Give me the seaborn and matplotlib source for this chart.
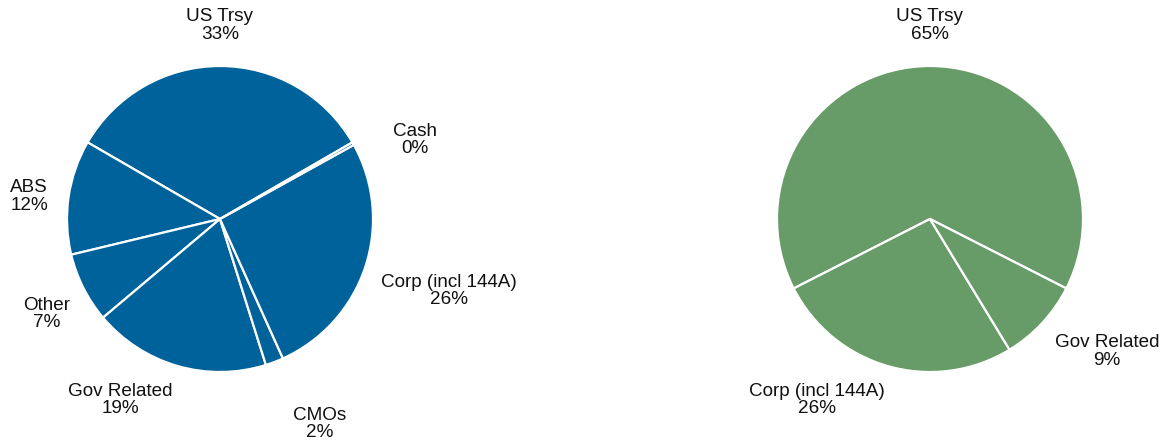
import matplotlib
matplotlib.use("Agg")
import matplotlib.pyplot as plt
import numpy as np
import seaborn as sns

# Portfolio sector allocation (percent of market value)
fund_sectors = ["US Trsy", "ABS", "Other", "Gov Related", "CMOs", "Corp (incl 144A)", "Cash"]
fund_weights = [33.3, 12.1, 7.4, 18.7, 1.9, 26.3, 0.3]

bench_sectors = ["US Trsy", "Corp (incl 144A)", "Gov Related"]
bench_weights = [65.0, 26.2, 8.8]

FUND_COLOR = "#00629b"
BENCH_COLOR = "#679b67"

# Label layout: radial distance (pie radii), angular nudge (deg), horizontal anchor
fund_label_dist = [1.263, 1.134, 1.161, 1.222, 1.422, 1.153, 1.243]
fund_label_nudge = [0.0, 0.8, 5.5, 1.6, -1.3, -5.7, -5.0]
fund_label_ha = ["center", "right", "right", "right", "left", "left", "left"]

bench_label_dist = [1.263, 1.219, 1.188]
bench_label_nudge = [0.0, 1.8, -3.8]
bench_label_ha = ["center", "right", "left"]

sns.set_theme(style="white")
plt.rcParams["font.family"] = ["Liberation Sans", "DejaVu Sans"]

W, H, R = 1172, 443, 153.0
fig = plt.figure(figsize=(W / 100, H / 100), dpi=100)
fig.patch.set_facecolor("white")


def draw_pie(rect, cx_px, cy_px, half_w_px, values, names, color,
             dists, nudges, aligns):
    ax = fig.add_axes(rect)
    total = sum(values)
    start = 90 - 360 * values[0] / total / 2
    wedges, _ = ax.pie(values, colors=[color] * len(values), startangle=start,
                       counterclock=True, radius=1.0,
                       wedgeprops=dict(edgecolor="white", linewidth=1.6))
    for w, name, v, d, nd, ha in zip(wedges, names, values, dists, nudges, aligns):
        ang = np.deg2rad((w.theta1 + w.theta2) / 2 + nd)
        ax.text(d * np.cos(ang), d * np.sin(ang), f"{name}\n{v:.0f}%",
                ha=ha, va="center", multialignment="center",
                fontsize=13.6, color="#111111", linespacing=1.06)
    ax.set_aspect("auto")
    ax.set_xlim(-half_w_px / R, half_w_px / R)
    ax.set_ylim(-(H - cy_px) / R, cy_px / R)
    ax.axis("off")
    return ax


draw_pie([0, 0, 440 / W, 1], 220, 219, 220, fund_weights, fund_sectors,
         FUND_COLOR, fund_label_dist, fund_label_nudge, fund_label_ha)
draw_pie([700 / W, 0, 460 / W, 1], 930, 219, 230, bench_weights, bench_sectors,
         BENCH_COLOR, bench_label_dist, bench_label_nudge, bench_label_ha)

fig.savefig("out.png", dpi=100, facecolor="white")
